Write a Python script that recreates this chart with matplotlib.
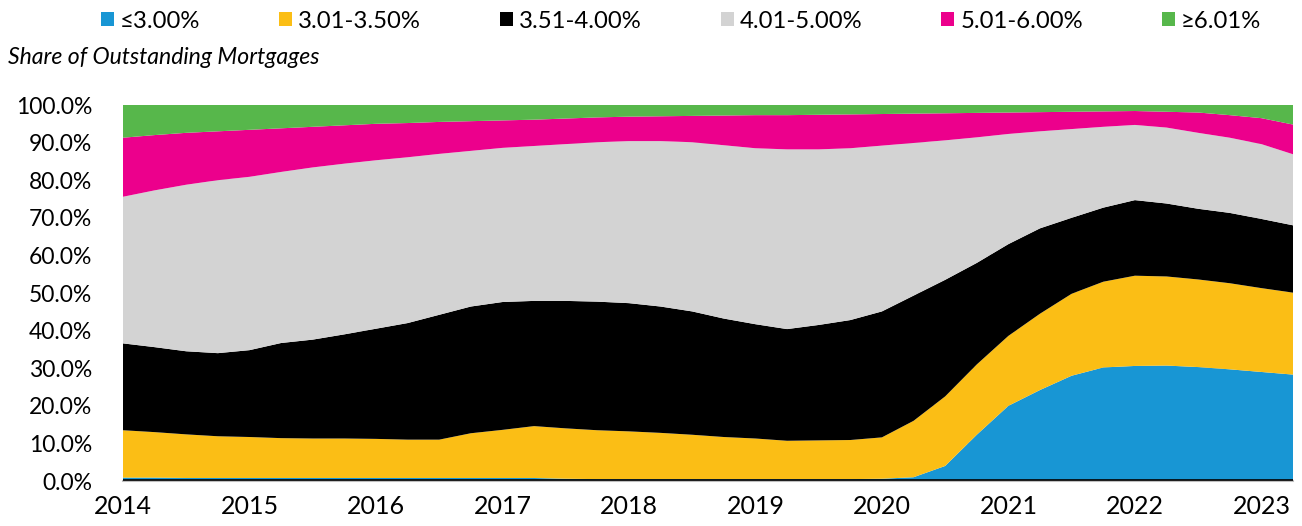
import matplotlib
matplotlib.use("Agg")
import matplotlib.pyplot as plt
from matplotlib.patches import Patch
import numpy as np

plt.rcParams['font.family'] = ['Lato', 'DejaVu Sans']

# Quarterly observations, 2014 Q1 .. 2023 Q2
quarters = np.arange(2014.0, 2023.26, 0.25)

categories = ["≤3.00%", "3.01-3.50%", "3.51-4.00%", "4.01-5.00%", "5.01-6.00%", "≥6.01%"]
colors = ["#1896D4", "#FBBE15", "#000000", "#D3D3D3", "#EC008C", "#57B74B"]

share_le300 = [0.9, 0.9, 0.8, 0.8, 0.8, 0.8, 0.8, 0.8, 0.8, 0.8, 0.8, 0.8, 0.8, 0.8, 0.6, 0.5, 0.5, 0.5, 0.5, 0.5,
               0.5, 0.5, 0.5, 0.5, 0.6, 1.0, 4.0, 12.3, 20.0, 24.2, 28.0, 30.2, 30.6, 30.7, 30.3, 29.7, 29.0, 28.3]
share_301_350 = [12.6, 12.1, 11.6, 11.1, 10.9, 10.6, 10.5, 10.5, 10.4, 10.2, 10.2, 11.9, 12.8, 13.8, 13.4, 13.0, 12.7, 12.3, 11.8, 11.2,
                 10.8, 10.2, 10.3, 10.4, 11.0, 15.0, 18.5, 18.7, 18.6, 20.3, 21.8, 22.8, 24.0, 23.7, 23.3, 22.9, 22.3, 21.8]
share_351_400 = [23.1, 22.6, 22.1, 22.1, 23.1, 25.3, 26.3, 27.7, 29.3, 31.0, 33.2, 33.7, 34.0, 33.3, 33.9, 34.2, 34.1, 33.6, 32.8, 31.5,
                 30.4, 29.7, 30.7, 31.9, 33.5, 33.3, 31.0, 27.0, 24.4, 22.7, 20.2, 19.7, 20.1, 19.4, 18.8, 18.7, 18.4, 17.9]
share_401_500 = [39.0, 41.7, 44.3, 46.0, 46.1, 45.5, 45.8, 45.4, 44.8, 44.1, 42.8, 41.4, 41.0, 41.2, 41.7, 42.4, 43.1, 44.0, 45.0, 46.1,
                 46.8, 47.8, 46.7, 45.7, 44.1, 40.6, 37.1, 33.4, 29.3, 25.8, 23.6, 21.5, 20.0, 20.2, 20.2, 20.0, 19.9, 18.9]
share_501_600 = [15.7, 14.7, 13.8, 13.0, 12.5, 11.6, 10.8, 10.2, 9.7, 9.1, 8.5, 7.9, 7.3, 7.0, 6.8, 6.6, 6.5, 6.6, 7.0, 7.9,
                 8.8, 9.1, 9.2, 9.0, 8.4, 7.8, 7.2, 6.5, 5.7, 5.1, 4.6, 4.1, 3.7, 4.2, 5.4, 6.0, 6.9, 7.9]
share_ge601 = [8.7, 8.0, 7.4, 7.0, 6.6, 6.2, 5.8, 5.4, 5.0, 4.8, 4.5, 4.3, 4.1, 3.9, 3.6, 3.3, 3.1, 3.0, 2.9, 2.8,
               2.7, 2.7, 2.6, 2.5, 2.4, 2.3, 2.2, 2.1, 2.0, 1.9, 1.8, 1.7, 1.6, 1.8, 2.0, 2.7, 3.5, 5.2]

year_ticks = list(range(2014, 2024))
year_labels = [str(y) for y in year_ticks]
y_ticks = list(range(0, 101, 10))
y_labels = [f"{v:.1f}%" for v in y_ticks]

fig = plt.figure(figsize=(13.02, 5.26), dpi=100)
ax = fig.add_axes([123/1302, 1-481/526, (1293-123)/1302, (481-105)/526])

ax.stackplot(quarters, share_le300, share_301_350, share_351_400, share_401_500,
             share_501_600, share_ge601, colors=colors, linewidth=0, zorder=2)

ax.set_xlim(quarters[0], quarters[-1])
ax.set_ylim(0, 100)
ax.set_yticks(y_ticks)
ax.set_yticklabels(y_labels, fontsize=16.5)
ax.set_xticks(year_ticks)
ax.set_xticklabels(year_labels, fontsize=18)
ax.tick_params(axis='y', length=0, pad=22)
ax.tick_params(axis='x', length=0, pad=10)
ax.yaxis.grid(True, color='#D0D0D0', linewidth=1.2)
ax.set_axisbelow(True)
for s in ['left', 'right', 'top']:
    ax.spines[s].set_visible(False)
ax.spines['bottom'].set_color('#BFBFBF')
ax.spines['bottom'].set_linewidth(1.5)
ax.axhline(0.25, color='black', linewidth=1.2, zorder=3)

handles = [Patch(facecolor=c, edgecolor='none') for c in colors]
fig.legend(handles, categories, loc='center', bbox_to_anchor=(681/1302, 1-21/526), ncol=6,
           frameon=False, fontsize=17.2, handlelength=0.55, handleheight=0.55,
           handletextpad=0.25, columnspacing=3.3, borderaxespad=0, borderpad=0)

fig.text(8/1302, 1-57/526, "Share of Outstanding Mortgages", fontsize=16.6, style='italic',
         ha='left', va='center')

fig.savefig("out.png", dpi=100)
